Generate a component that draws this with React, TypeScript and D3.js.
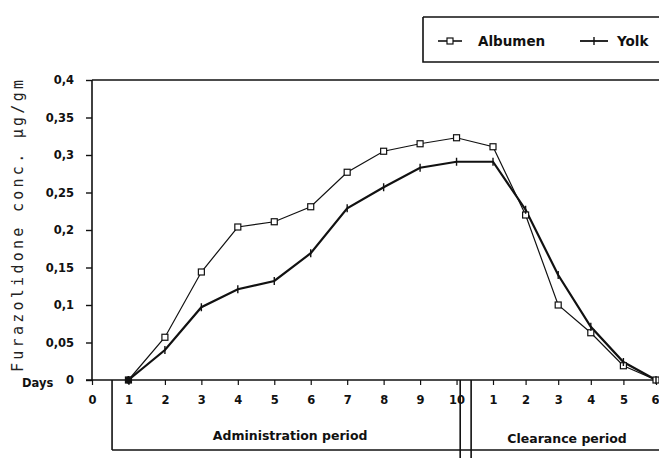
import React from 'react';
import * as d3 from 'd3';

// positions 0..10 = administration days, 11..16 = clearance days 1..6
const dayTicks = ['0', '1', '2', '3', '4', '5', '6', '7', '8', '9', '10', '1', '2', '3', '4', '5', '6'];
const dayPos = [1, 2, 3, 4, 5, 6, 7, 8, 9, 10, 11, 12, 13, 14, 15, 16];
const albumen = [0, 0.057, 0.144, 0.204, 0.211, 0.231, 0.277, 0.305, 0.315, 0.323, 0.311, 0.22, 0.1, 0.063, 0.019, 0];
const yolk = [0, 0.04, 0.097, 0.121, 0.132, 0.169, 0.229, 0.257, 0.283, 0.291, 0.291, 0.227, 0.14, 0.071, 0.024, 0];
const yTicks = [0, 0.05, 0.1, 0.15, 0.2, 0.25, 0.3, 0.35, 0.4];

const W = 659;
const H = 458;
const font = "'DejaVu Sans', sans-serif";

const App = () => {
  const ref = React.useRef<SVGSVGElement>(null);

  React.useEffect(() => {
    const svg = d3.select(ref.current);
    svg.selectAll('*').remove();

    // administration days are drawn a little wider than clearance days
    const x = d3.scaleLinear().domain([0, 11, 16]).range([92, 493, 656]);
    const y = d3.scaleLinear().domain([0, 0.4]).range([380, 80]);

    svg.append('rect').attr('width', W).attr('height', H).attr('fill', '#fff');

    // frame: left axis + top border
    svg.append('line').attr('x1', x(0)).attr('x2', x(0)).attr('y1', y(0.4)).attr('y2', y(0))
      .attr('stroke', '#111').attr('stroke-width', 1.6);
    svg.append('line').attr('x1', x(0)).attr('x2', W).attr('y1', y(0.4)).attr('y2', y(0.4))
      .attr('stroke', '#111').attr('stroke-width', 1.6);

    // y axis
    const gy = svg.append('g').attr('transform', `translate(${x(0)},0)`)
      .call(d3.axisLeft(y).tickValues(yTicks).tickSize(6).tickPadding(12)
        .tickFormat((d) => d3.format('.2~f')(d as number).replace('.', ',')));
    gy.select('.domain').remove();
    gy.selectAll('line').attr('stroke', '#111').attr('stroke-width', 1.4);
    gy.selectAll('text').attr('font-family', font).attr('font-weight', 'bold')
      .attr('font-size', 11.5).attr('fill', '#111');

    // x axis
    const gx = svg.append('g').attr('transform', `translate(0,${y(0)})`)
      .call(d3.axisBottom(x).tickValues(d3.range(0, 17)).tickSize(5).tickPadding(11)
        .tickFormat((d, i) => dayTicks[i]));
    gx.select('.domain').remove();
    gx.selectAll('line').attr('stroke', '#111').attr('stroke-width', 1.2);
    gx.selectAll('text').attr('font-family', font).attr('font-weight', 'bold')
      .attr('font-size', 11.5).attr('fill', '#111');
    // last label sits against the right edge
    gx.selectAll('text').filter((d) => d === 16).attr('text-anchor', 'end').attr('dx', 3);
    svg.append('line').attr('x1', x(0) - 6).attr('x2', W).attr('y1', y(0)).attr('y2', y(0))
      .attr('stroke', '#111').attr('stroke-width', 1.6);

    // period boxes
    const boxTop = y(0);
    const boxBottom = 450;
    const period = svg.append('g').attr('stroke', '#111').attr('stroke-width', 1.6).attr('fill', 'none');
    period.append('line').attr('x1', x(0.55)).attr('x2', x(0.55)).attr('y1', boxTop).attr('y2', boxBottom);
    period.append('line').attr('x1', x(0.55)).attr('x2', W).attr('y1', boxBottom).attr('y2', boxBottom);
    [10.1, 10.4].forEach((d) => {
      period.append('line').attr('x1', x(d)).attr('x2', x(d)).attr('y1', boxTop).attr('y2', H);
    });
    svg.append('text').attr('x', (x(0.55) + x(10.1)) / 2 + 4).attr('y', 440).attr('text-anchor', 'middle')
      .attr('font-family', font).attr('font-weight', 'bold').attr('font-size', 12.5).attr('fill', '#111')
      .text('Administration period');
    svg.append('text').attr('x', (x(10.4) + W) / 2 + 2).attr('y', 443).attr('text-anchor', 'middle')
      .attr('font-family', font).attr('font-weight', 'bold').attr('font-size', 12.5).attr('fill', '#111')
      .text('Clearance period');

    svg.append('text').attr('x', 22).attr('y', 387)
      .attr('font-family', font).attr('font-weight', 'bold').attr('font-size', 11.5).attr('fill', '#111')
      .text('Days');

    // y title
    svg.append('text').attr('transform', `translate(23,226) rotate(-90)`)
      .attr('text-anchor', 'middle').attr('font-family', "'DejaVu Sans Mono', monospace")
      .attr('font-size', 15).attr('fill', '#222')
      .attr('textLength', 292).attr('lengthAdjust', 'spacing')
      .text('Furazolidone conc. µg/gm');

    // lines
    const line = d3.line<number>().x((d, i) => x(dayPos[i])).y((d) => y(d));
    svg.append('path').datum(albumen).attr('d', line).attr('fill', 'none')
      .attr('stroke', '#111').attr('stroke-width', 1.2);
    svg.append('path').datum(yolk).attr('d', line).attr('fill', 'none')
      .attr('stroke', '#111').attr('stroke-width', 2.2);

    svg.append('g').selectAll('rect').data(albumen).join('rect')
      .attr('x', (d, i) => x(dayPos[i]) - 3).attr('y', (d) => y(d) - 3)
      .attr('width', 6).attr('height', 6).attr('fill', '#fff')
      .attr('stroke', '#111').attr('stroke-width', 1.2);
    svg.append('g').selectAll('line').data(yolk).join('line')
      .attr('x1', (d, i) => x(dayPos[i])).attr('x2', (d, i) => x(dayPos[i]))
      .attr('y1', (d) => y(d) - 4).attr('y2', (d) => y(d) + 4)
      .attr('stroke', '#111').attr('stroke-width', 1.4);
    svg.append('circle').attr('cx', x(1)).attr('cy', y(0)).attr('r', 3.5).attr('fill', '#111');

    // legend
    const lg = svg.append('g');
    lg.append('path').attr('d', `M423,17 L${W},17 M423,17 L423,62 L${W},62`)
      .attr('fill', 'none').attr('stroke', '#111').attr('stroke-width', 1.6);
    lg.append('line').attr('x1', 438).attr('x2', 462).attr('y1', 41).attr('y2', 41)
      .attr('stroke', '#111').attr('stroke-width', 1.6);
    lg.append('rect').attr('x', 447).attr('y', 38).attr('width', 6).attr('height', 6)
      .attr('fill', '#fff').attr('stroke', '#111').attr('stroke-width', 1.2);
    lg.append('text').attr('x', 478).attr('y', 46).attr('font-family', font).attr('font-weight', 'bold')
      .attr('font-size', 13.5).attr('fill', '#111').text('Albumen');
    lg.append('line').attr('x1', 580).attr('x2', 608).attr('y1', 41).attr('y2', 41)
      .attr('stroke', '#111').attr('stroke-width', 1.8);
    lg.append('line').attr('x1', 594).attr('x2', 594).attr('y1', 37).attr('y2', 45)
      .attr('stroke', '#111').attr('stroke-width', 1.4);
    lg.append('text').attr('x', 617).attr('y', 46).attr('font-family', font).attr('font-weight', 'bold')
      .attr('font-size', 13.5).attr('fill', '#111').text('Yolk');
  }, []);

  return (
    <svg ref={ref} width={W} height={H}
      style={{ position: 'absolute', left: 0, top: 0, display: 'block' }} />
  );
};

export default App;
